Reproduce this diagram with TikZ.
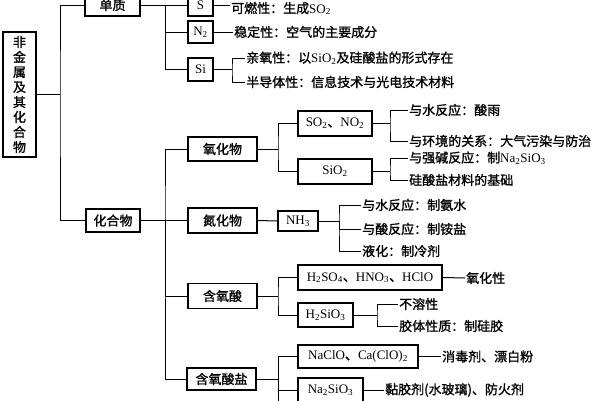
\documentclass[tikz,border=0pt]{standalone}
\usepackage{fontspec}
\setmainfont{Liberation Serif}
\newfontfamily\cjk{Noto Sans CJK SC}[FakeBold=1.2]
\usetikzlibrary{calc}
\newcommand{\lat}[1]{{\rmfamily #1}}

\begin{document}
\begin{tikzpicture}[x=1pt,y=-1pt,
    box/.style={draw,line width=1.2pt,inner sep=0pt,font=\cjk\fontsize{13}{15}\selectfont},
    txt/.style={anchor=west,inner sep=1pt,font=\cjk\fontsize{13}{15}\selectfont},
    link/.style={line width=1pt}]
    \useasboundingbox (0,0) rectangle (600,400);
    % Root
    \node[box,minimum width=33pt,minimum height=125pt,align=center] (root) at (19.5,94.5)
        {非\\金\\属\\及\\其\\化\\合\\物};
    \coordinate (jroot) at (60,94.5);
    % Elements and compounds
    \node[box,minimum width=55pt,minimum height=22pt] (dz) at (112.5,5) {单质};
    \node[box,minimum width=54pt,minimum height=23pt] (hhw) at (113,220.5) {化合物};
    \draw[link] (root.east) -- (jroot);
    \draw[link] (dz.west) -| (jroot) |- (hhw.west);
    % Elements
    \node[box,minimum width=25pt,minimum height=22pt] (S) at (200.5,5) {\lat{S}};
    \node[box,minimum width=25pt,minimum height=22pt] (N) at (200.5,32) {\lat{N\textsubscript{2}}};
    \node[box,minimum width=25pt,minimum height=23pt] (Si) at (200.5,69.5) {\lat{Si}};
    \coordinate (jdz) at (165,5);
    \draw[link] (dz.east) -- (S.west);
    \draw[link] (jdz) |- (N.west);
    \draw[link] (jdz) |- (Si.west);
        \node[txt] (St) at (230,8.5) {可燃性：生成\lat{SO\textsubscript{2}}};
        \draw[link] (S.east) -- (S.east -| St.west);
        \node[txt] (Nt) at (233,32) {稳定性：空气的主要成分};
        \draw[link] (N.east) -- (Nt.west);
        \coordinate (jSi) at (232,69.5);
        \node[txt] (Sia) at (245,58) {亲氧性：以\lat{SiO\textsubscript{2}}及硅酸盐的形式存在};
        \node[txt] (Sib) at (245,82) {半导体性：信息技术与光电技术材料};
        \draw[link] (Si.east) -- (jSi);
        \draw[link] (Sia.west) -| (jSi) |- (Sib.west);
    % Compounds
    \node[box,minimum width=69pt,minimum height=24pt] (yhw) at (222.5,149) {氧化物};
    \node[box,minimum width=69pt,minimum height=25pt] (dhw) at (222.5,220.5) {氮化物};
    \node[box,minimum width=69pt,minimum height=25pt] (hys) at (222.5,296) {含氧酸};
    \node[box,minimum width=69pt,minimum height=22pt] (hyy) at (221.5,379) {含氧酸盐};
    \coordinate (jhhw) at (165,220.5);
    \draw[link] (hhw.east) -- (dhw.west);
    \draw[link] (yhw.west) -| (jhhw) |- (hyy.west);
    \draw[link] (jhhw) |- (hys.west);
    % Oxides
    \node[box,minimum width=74pt,minimum height=25pt] (so2) at (335,123.5)
        {\lat{SO\textsubscript{2}}、\lat{NO\textsubscript{2}}};
    \node[box,minimum width=74pt,minimum height=25pt] (sio2) at (335,171.5) {\lat{SiO\textsubscript{2}}};
    \coordinate (jyhw) at (278,149);
    \draw[link] (yhw.east) -- (jyhw);
    \draw[link] (so2.west) -| (jyhw) |- (sio2.west);
        \coordinate (jso2) at (390,123.5);
        \node[txt] (so2a) at (408,110) {与水反应：酸雨};
        \node[txt] (so2b) at (408,141) {与环境的关系：大气污染与防治};
        \draw[link] (so2.east) -- (jso2);
        \draw[link] (so2a.west) -| (jso2) |- (so2b.west);
        \coordinate (jsio2) at (390,171.5);
        \node[txt] (sio2a) at (408,158) {与强碱反应：制\lat{Na\textsubscript{2}SiO\textsubscript{3}}};
        \node[txt] (sio2b) at (408,180) {硅酸盐材料的基础};
        \draw[link] (sio2.east) -- (jsio2);
        \draw[link] (sio2a.west) -| (jsio2) |- (sio2b.west);
    % Nitrides
    \node[box,minimum width=40pt,minimum height=20pt] (nh3) at (298,221) {\lat{NH\textsubscript{3}}};
    \draw[link] (dhw.east) -- (nh3.west);
        \coordinate (jnh3) at (339,221);
        \node[txt] (nh3a) at (361,205) {与水反应：制氨水};
        \node[txt] (nh3b) at (361,229) {与酸反应：制铵盐};
        \node[txt] (nh3c) at (361,251) {液化：制冷剂};
        \draw[link] (nh3.east) -- (jnh3);
        \draw[link] (nh3a.west) -| (jnh3) |- (nh3c.west);
        \draw[link] (jnh3) |- (nh3b.west);
    % Oxyacids
    \node[box,minimum width=144pt,minimum height=25pt] (h2so4) at (370,277.5)
        {\lat{H\textsubscript{2}SO\textsubscript{4}}、\lat{HNO\textsubscript{3}}、\lat{HClO}};
    \node[box,minimum width=55pt,minimum height=24pt] (h2sio3) at (325.5,315)
        {\lat{H\textsubscript{2}SiO\textsubscript{3}}};
    \coordinate (jhys) at (278,296);
    \draw[link] (hys.east) -- (jhys);
    \draw[link] (h2so4.west) -| (jhys) |- (h2sio3.west);
        \node[txt] (h2so4a) at (465,278) {氧化性};
        \draw[link] (h2so4.east) -- (h2so4a.west);
        \coordinate (jh2sio3) at (377,315);
        \node[txt] (h2sio3a) at (398,304) {不溶性};
        \node[txt] (h2sio3b) at (398,326) {胶体性质：制硅胶};
        \draw[link] (h2sio3.east) -- (jh2sio3);
        \draw[link] (h2sio3a.west) -| (jh2sio3) |- (h2sio3b.west);
    % Oxysalts
    \node[box,minimum width=120pt,minimum height=23pt] (naclo) at (358,356.5)
        {\lat{NaClO}、\lat{Ca(ClO)\textsubscript{2}}};
    \node[box,minimum width=65pt,minimum height=24pt] (na2sio3) at (330.5,390)
        {\lat{Na\textsubscript{2}SiO\textsubscript{3}}};
    \coordinate (jhyy) at (278,379);
    \coordinate (hyyend) at (278,405);
    \draw[link] (hyy.east) -- (jhyy);
    \draw[link] (naclo.west) -| (hyyend);
    \draw[link] (jhyy) |- (na2sio3.west);
        \node[txt] (nacloa) at (441,356.5) {消毒剂、漂白粉};
        \draw[link] (naclo.east) -- (nacloa.west);
        \node[txt] (na2sio3a) at (384,390) {黏胶剂(水玻璃)、防火剂};
        \draw[link] (na2sio3.east) -- (na2sio3a.west);
\end{tikzpicture}
\end{document}
